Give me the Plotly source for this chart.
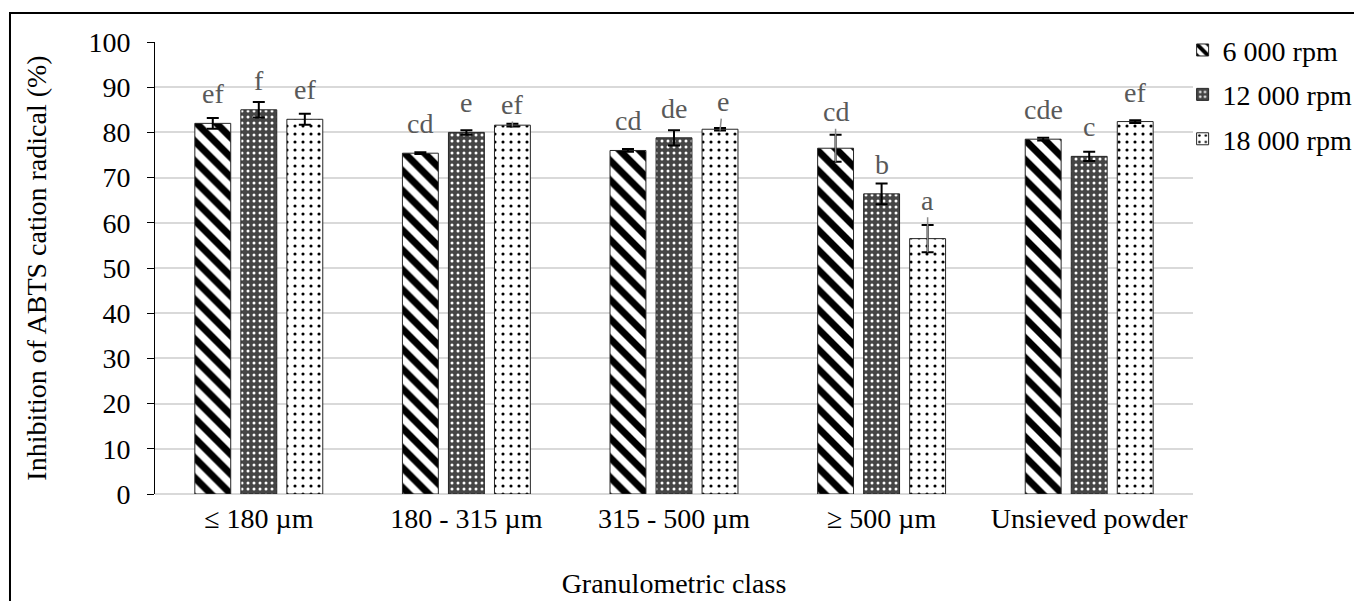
import plotly.graph_objects as go

categories = ["≤ 180 µm", "180 - 315 µm", "315 - 500 µm", "≥ 500 µm", "Unsieved powder"]
series_names = ["6 000 rpm", "12 000 rpm", "18 000 rpm"]
values_6000 = [82.0, 75.4, 76.0, 76.5, 78.5]
values_12000 = [85.0, 80.0, 78.8, 66.4, 74.7]
values_18000 = [82.9, 81.6, 80.7, 56.5, 82.4]
err_6000 = [1.2, 0.2, 0.3, 3.0, 0.3]
err_12000 = [1.7, 0.5, 1.7, 2.3, 1.0]
err_18000 = [1.2, 0.3, 0.3, 3.0, 0.3]
letters_6000 = ["ef", "cd", "cd", "cd", "cde"]
letters_12000 = ["f", "e", "de", "b", "c"]
letters_18000 = ["ef", "ef", "e", "a", "ef"]

values = [values_6000, values_12000, values_18000]
errors = [err_6000, err_12000, err_18000]
letters = [letters_6000, letters_12000, letters_18000]

FONT = "Liberation Serif"
FS = 28
BARGAP = 0.335
GROUPGAP = 0.22

patterns = [
    dict(shape="\\", fgcolor="black", bgcolor="white", size=14, solidity=0.5, fgopacity=1),
    dict(shape=".", fgcolor="white", bgcolor="#454545", size=6, solidity=0.2, fgopacity=1),
    dict(shape=".", fgcolor="black", bgcolor="white", size=8, solidity=0.12, fgopacity=1),
]

# label leader-line style: (series index, category index) -> (ax, ay) pixel offsets
leaders = {(2, 1): (0, -22), (2, 2): (3, -29), (0, 3): (0, -50), (2, 3): (0, -52)}

fig = go.Figure()
for i, name in enumerate(series_names):
    fig.add_trace(go.Bar(
        name=name, x=categories, y=values[i],
        marker=dict(color="white", line=dict(color="#262626", width=1), pattern=patterns[i]),
        error_y=dict(type="data", array=errors[i], color="black", thickness=2, width=6),
        legendgroup=name,
    ))

slot = (1 - BARGAP) / 3
annotations = []
for i in range(3):
    for j in range(len(categories)):
        xpos = j + (i - 1) * slot
        if (i, j) in leaders:
            ax, ay = leaders[(i, j)]
            annotations.append(dict(
                x=xpos, y=values[i][j] - errors[i][j], xref="x", yref="y",
                text=letters[i][j], showarrow=True, arrowhead=0, arrowwidth=1.5,
                arrowcolor="#8c8c8c", ax=ax, ay=ay, standoff=0,
                font=dict(family=FONT, size=FS, color="#595959"),
            ))
        else:
            annotations.append(dict(
                x=xpos, y=values[i][j], xref="x", yref="y",
                text=letters[i][j], showarrow=False, yanchor="bottom", yshift=12,
                font=dict(family=FONT, size=FS, color="#595959"),
            ))

fig.update_layout(
    width=1354, height=593,
    margin=dict(l=147, r=169, t=34, b=107, autoexpand=False),
    paper_bgcolor="white", plot_bgcolor="white",
    barmode="group", bargap=BARGAP, bargroupgap=GROUPGAP,
    font=dict(family=FONT, size=FS, color="black"),
    showlegend=True,
    legend=dict(x=0.99, xanchor="left", y=1.037, yanchor="top",
                font=dict(family=FONT, size=FS, color="black"),
                traceorder="grouped", tracegroupgap=5,
                bgcolor="rgba(0,0,0,0)", itemwidth=30),
    annotations=annotations,
    shapes=[dict(type="rect", xref="paper", yref="paper",
                 x0=-0.1397, x1=1.5, y0=-0.5, y1=1.064,
                 line=dict(color="black", width=2), layer="below")],
)
fig.update_yaxes(range=[0, 100], dtick=10, showgrid=True, gridcolor="#d9d9d9", gridwidth=1.5,
                 zeroline=True, zerolinecolor="#d9d9d9", zerolinewidth=1.5,
                 showline=True, linecolor="black", linewidth=1,
                 ticks="outside", ticklen=7, tickcolor="black", automargin=False,
                 ticklabelstandoff=11,
                 title=dict(text="Inhibition of ABTS cation radical (%)", standoff=33,
                            font=dict(family=FONT, size=FS)),
                 tickfont=dict(family=FONT, size=FS))
fig.update_xaxes(showline=False, ticks="", tickfont=dict(family=FONT, size=FS), automargin=False,
                 ticklabelstandoff=5,
                 title=dict(text="Granulometric class", standoff=40,
                            font=dict(family=FONT, size=FS)))

fig.write_html("out.html")
